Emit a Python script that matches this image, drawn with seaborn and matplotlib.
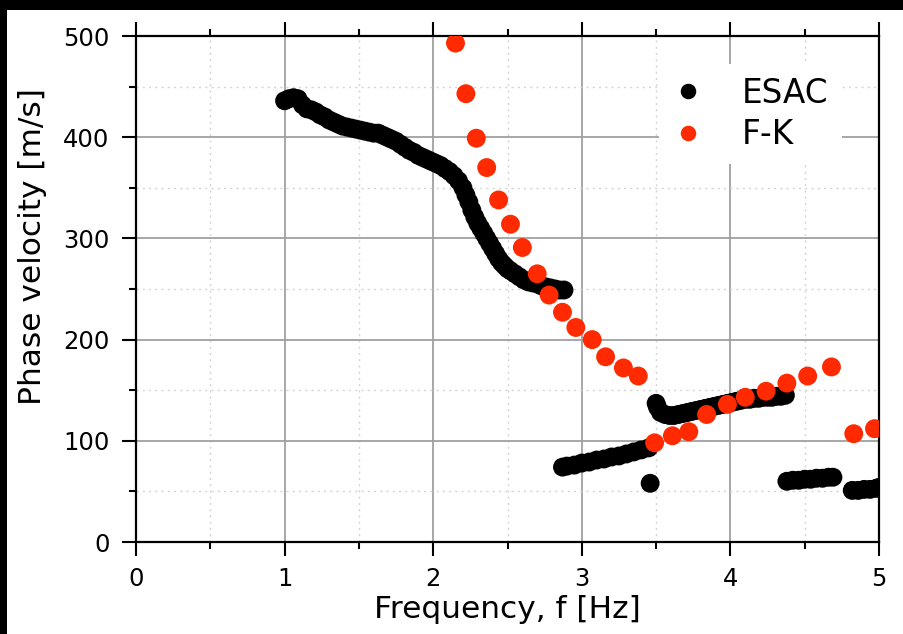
import numpy as np
import pandas as pd
import matplotlib
matplotlib.use("Agg")
import matplotlib.pyplot as plt
from matplotlib.patches import Rectangle
from matplotlib.ticker import MultipleLocator
import seaborn as sns

# ---------------- data ----------------
esac_f = [1.00, 1.03, 1.06, 1.09, 1.12, 1.15, 1.18, 1.21, 1.24, 1.27, 1.30, 1.33, 1.36,
          1.39, 1.42, 1.45, 1.48, 1.51, 1.54, 1.57, 1.60, 1.63, 1.66, 1.69, 1.72, 1.75,
          1.78, 1.81, 1.84, 1.87, 1.90, 1.93, 1.96, 1.99, 2.02, 2.05, 2.08, 2.11, 2.14,
          2.17, 2.20, 2.22, 2.24, 2.26, 2.28, 2.30, 2.32, 2.34, 2.36, 2.38, 2.40, 2.42,
          2.44, 2.46, 2.48, 2.50, 2.52, 2.55, 2.58, 2.61, 2.64, 2.67, 2.70, 2.73, 2.76,
          2.79, 2.82, 2.85, 2.88,
          2.87, 2.90, 2.95, 3.00, 3.05, 3.10, 3.15, 3.20, 3.25, 3.30, 3.35, 3.40, 3.45,
          3.46,
          3.50, 3.51, 3.53, 3.56, 3.59, 3.62, 3.65, 3.68, 3.71, 3.74, 3.77, 3.80, 3.83,
          3.86, 3.89, 3.92, 3.95, 3.98, 4.01, 4.04, 4.07, 4.10, 4.13, 4.16, 4.19, 4.22,
          4.25, 4.28, 4.31, 4.34, 4.37,
          4.38, 4.42, 4.46, 4.50, 4.54, 4.58, 4.62, 4.66, 4.69,
          4.82, 4.86, 4.90, 4.94, 4.98, 5.00]
esac_v = [436, 438, 439, 438, 432, 428, 427, 425, 422, 420, 417, 415, 413,
          411, 410, 409, 408, 407, 406, 405, 404, 404, 402, 400, 398, 396,
          393, 390, 387, 385, 382, 380, 378, 376, 374, 372, 369, 366, 362,
          357, 350, 343, 336, 328, 321, 315, 310, 305, 300, 295, 290, 285,
          280, 276, 273, 270, 268, 265, 262, 259, 257, 256, 255, 253, 252,
          251, 250, 249, 249,
          74, 75, 76, 78, 79, 81, 82, 84, 85, 87, 89, 91, 93,
          58,
          137, 133, 128, 126, 125, 125, 126, 127, 128, 129, 130, 131, 132,
          133, 134, 135, 136, 137, 138, 139, 140, 141, 141, 142, 142, 143,
          143, 143, 144, 144, 145,
          60, 61, 61, 62, 62, 63, 63, 64, 64,
          51, 51, 52, 52, 53, 54]

fk_f = [2.15, 2.22, 2.29, 2.36, 2.44, 2.52, 2.60, 2.70, 2.78, 2.87, 2.96, 3.07,
        3.16, 3.28, 3.38, 3.49, 3.61, 3.72, 3.84, 3.98, 4.10, 4.24, 4.38, 4.52,
        4.68, 4.83, 4.97]
fk_v = [493, 443, 399, 370, 338, 314, 291, 265, 244, 227, 212, 200,
        183, 172, 164, 98, 105, 109, 126, 136, 143, 149, 157, 164,
        173, 107, 112]

series_names = ["ESAC", "F-K"]
x_ticks = [0, 1, 2, 3, 4, 5]
y_ticks = [0, 100, 200, 300, 400, 500]

df = pd.DataFrame({
    "f": esac_f + fk_f,
    "v": esac_v + fk_v,
    "method": [series_names[0]] * len(esac_f) + [series_names[1]] * len(fk_f),
})

# ---------------- figure ----------------
sns.set_style("white")
plt.rcParams["font.family"] = ["DejaVu Sans"]
plt.rcParams["text.color"] = "black"
plt.rcParams["axes.labelcolor"] = "black"

fig = plt.figure(figsize=(9.04, 6.34), dpi=100)
fig.patch.set_facecolor("white")
ax = fig.add_axes([136 / 904, 1 - 542 / 634, (879 - 136) / 904, (542 - 36) / 634])

# black border bands (top and left)
fig.patches.append(Rectangle((0, 1 - 10 / 634), 1, 10 / 634, transform=fig.transFigure,
                             facecolor="black", edgecolor="none", zorder=10))
fig.patches.append(Rectangle((0, 0), 7 / 904, 1, transform=fig.transFigure,
                             facecolor="black", edgecolor="none", zorder=10))

sns.scatterplot(data=df, x="f", y="v", hue="method",
                palette={"ESAC": "black", "F-K": "#ff2a00"},
                s=185, linewidth=0, edgecolor="none", ax=ax, zorder=3)

ax.set_xlim(0, 5)
ax.set_ylim(0, 500)
ax.set_xticks(x_ticks)
ax.set_yticks(y_ticks)
ax.xaxis.set_minor_locator(MultipleLocator(0.5))
ax.yaxis.set_minor_locator(MultipleLocator(50))

ax.grid(True, which="major", color="#a0a0a0", linewidth=1.3, linestyle="-", zorder=0)
ax.grid(True, which="minor", color="#d4d4d4", linewidth=1.0, linestyle=(0, (1.5, 3)), zorder=0)
ax.set_axisbelow(True)

for sp in ax.spines.values():
    sp.set_visible(True)
    sp.set_color("black")
    sp.set_linewidth(1.6)

ax.tick_params(which="both", direction="out", top=True, right=False, bottom=True, left=True,
               color="black", width=1.5, labelsize=17.5, labelcolor="black")
ax.tick_params(which="major", length=10)
ax.tick_params(which="minor", length=5)
ax.tick_params(axis="x", which="major", pad=8)
ax.tick_params(axis="y", which="major", pad=9)

ax.set_xlabel("Frequency, f [Hz]", fontsize=22.5, labelpad=3, color="black")
ax.set_ylabel("Phase velocity [m/s]", fontsize=22.5, color="black")
ax.yaxis.set_label_coords(-0.12, (542 - 247) / 506)

leg = ax.legend(loc="upper left", bbox_to_anchor=(658.7 / 904, 1 - 63.5 / 634),
                bbox_transform=fig.transFigure, fontsize=23.5, frameon=True,
                facecolor="white", edgecolor="none", framealpha=1.0,
                handlelength=1.0, handletextpad=1.15, labelspacing=0.27,
                markerscale=0.82, borderpad=0.4, borderaxespad=0, title=None)
for t in leg.get_texts():
    t.set_color("black")
leg.set_zorder(5)

fig.savefig("out.png", dpi=100, facecolor="white")
